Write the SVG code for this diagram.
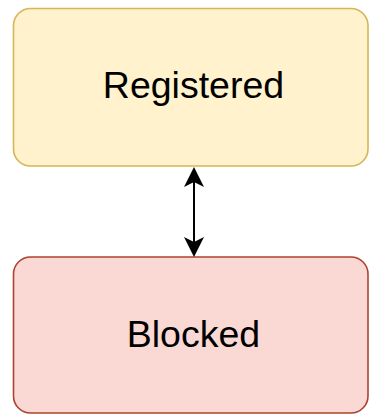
<svg xmlns="http://www.w3.org/2000/svg" width="369" height="414" viewBox="0 0 369 414">
<defs>
<style>
.node text{font-family:"Liberation Sans",Arial,sans-serif;font-size:37.5px;fill:#000;text-anchor:middle}
.yellow{fill:#fff2cc;stroke:#d6b656;stroke-width:1.6}
.red{fill:#fad9d5;stroke:#ae4132;stroke-width:1.6}
.edge{stroke:#000;stroke-width:2;fill:none}
.head{fill:#000}
</style>
</defs>
<g id="registered" class="node">
<rect class="yellow" x="13.5" y="8.5" width="354.5" height="157.5" rx="17" ry="17"/>
<text x="193.5" y="98">Registered</text>
</g>
<g id="blocked" class="node">
<rect class="red" x="13.5" y="257" width="354.5" height="156" rx="17" ry="17"/>
<text x="193.5" y="347">Blocked</text>
</g>
<g id="connectors">
<line class="edge" x1="194" y1="182" x2="194" y2="242"/>
<path class="head" d="M194,167 L204,187 L194,182 L184,187 Z"/>
<path class="head" d="M194,257 L204,237 L194,242 L184,237 Z"/>
</g>
</svg>
